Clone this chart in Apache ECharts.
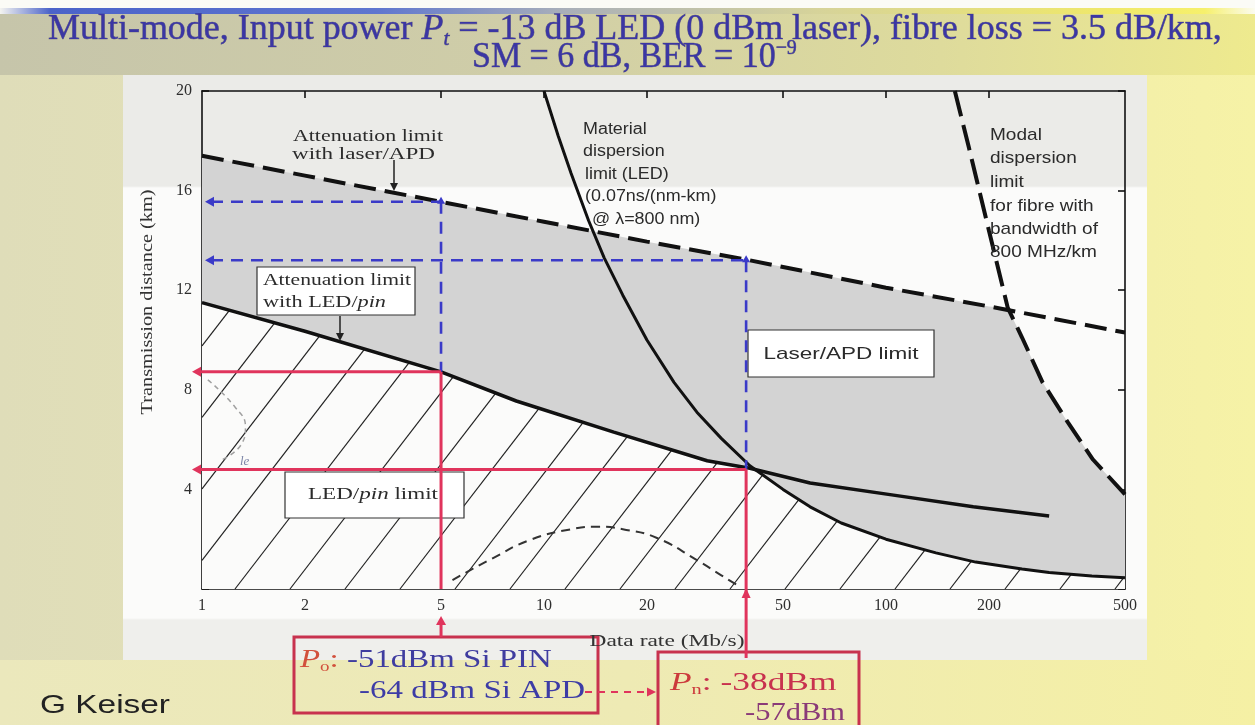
<!DOCTYPE html>
<html><head><meta charset="utf-8">
<script src="https://cdn.jsdelivr.net/npm/echarts@6.0.0/dist/echarts.min.js"></script>
<style>
html,body{margin:0;padding:0;}
body{width:1255px;height:725px;overflow:hidden;position:relative;background:linear-gradient(90deg,#dfddb9 0%,#e6e3b6 40%,#f0ecac 75%,#f6f2a6 100%);}
#topwhite{position:absolute;left:0;top:0;width:1255px;height:8px;background:#fbfbf6;}
#topbar{position:absolute;left:0;top:8px;width:1255px;height:6px;background:linear-gradient(90deg,#f4f4f0 0%,#4b63c9 4%,#5f76cf 30%,#a9afb9 45%,#d6d39a 65%,#efe86a 88%,#f6f06c 96%,#fbfbf0 100%);}
#titlebg{position:absolute;left:0;top:14px;width:1255px;height:61px;background:linear-gradient(90deg,#c6c5aa 0%,#cfcda8 40%,#dedb9c 75%,#eeea8e 100%);}
#bottombg{position:absolute;left:0;top:660px;width:1255px;height:65px;background:linear-gradient(90deg,#ebe8bc 0%,#eeeab4 50%,#f5f0a4 100%);}
#panel{position:absolute;left:123px;top:75px;width:1024px;height:585px;background:linear-gradient(180deg,#ebebe8 0px,#ebebe8 111px,#fbfbfa 113px,#fbfbfa 543px,#efefec 545px,#efefec 585px);}
#chart{position:absolute;left:0;top:0;width:1255px;height:725px;}
</style></head>
<body>
<div id="topwhite"></div><div id="topbar"></div><div id="titlebg"></div><div id="bottombg"></div><div id="panel"></div>
<div id="chart"></div>
<script>
// ---------------- data ----------------
const xTickValues = [1, 2, 5, 10, 20, 50, 100, 200, 500];
const xInnerTicks = [2, 5, 10, 20, 50, 100, 200];
const yTickValues = [4, 8, 12, 16, 20];

// attenuation limit with laser/APD (dashed)
const laserApdRate = [1, 2, 5, 10, 20, 40, 100, 200, 500];
const laserApdDist = [17.4, 16.6, 15.55, 14.75, 13.95, 13.2, 12.1, 11.35, 10.3];

// attenuation limit with LED/pin (solid)
const ledPinRate = [1, 2, 5, 8.3, 16, 30, 40, 60, 104, 180, 300];
const ledPinDist = [11.5, 10.35, 8.72, 7.55, 6.3, 5.15, 4.85, 4.26, 3.78, 3.3, 2.93];

// material dispersion limit (LED)
const materialRate = [10, 11, 12, 13.5, 15, 17, 20, 24, 28, 33, 40, 50, 60, 74, 100, 140, 183, 250, 300, 400, 500];
const materialDist = [20, 18.2, 16.7, 14.8, 13.3, 11.8, 10, 8.3, 7.1, 6.05, 4.95, 4.0, 3.3, 2.65, 2.0, 1.45, 1.08, 0.8, 0.66, 0.52, 0.45];

// modal dispersion limit (dashed)
const modalRate = [159, 175, 200, 227, 250, 287, 340, 403, 500];
const modalDist = [20, 17.7, 14.4, 11.3, 10.1, 8.3, 6.7, 5.2, 3.8];

// thin dashed hump
const humpRate = [5.4, 7, 9.1, 12, 14.3, 17, 21.4, 28, 33, 37.5];
const humpDist = [0.36, 1.2, 1.97, 2.4, 2.5, 2.4, 2.05, 1.16, 0.55, 0.08];

// faint grey dashed scribble near the left axis
const scribbleRate = [1.04, 1.25, 1.34, 1.31, 1.15];
const scribbleDist = [8.4, 7.3, 6.5, 5.86, 5.2];

// operating points (guide lines)
const pinRate = 5, pinDist = 8.72, apdDist1 = 15.55;
const crossRate = 39, crossDist = 4.8, apdDist2 = 13.2;

// region boundaries
const greyCutRate = 227;   // laser/APD line meets modal limit
const hatchCutRate = 40;   // LED/pin line meets material limit
const xMin = 1, xMax = 500, yMin = 0, yMax = 20;

// ---------------- style / layout ----------------
const SERIF = 'Liberation Serif', SANS = 'Liberation Sans';
const INK = '#2b2b2b', TITLE = '#3b36a4', RED = '#e0345c', BLUE = '#3a3ac8', BOXRED = '#c8324e';
const BOX1 = {x: 294, y: 637, w: 304, h: 76};
const BOX2 = {x: 658, y: 652, w: 201, h: 80};

const mctx = document.createElement('canvas').getContext('2d');
function measure(str, size, fam, italic) {
  mctx.font = (italic ? 'italic ' : '') + size + 'px "' + fam + '"';
  return mctx.measureText(str).width;
}
function T(x, y, text, o) {
  o = o || {};
  const size = o.size || 16, fam = o.family || SERIF;
  let sx = o.scale || 1;
  if (o.width) sx = o.width / measure(o.plain || text, size, fam, o.italic);
  const style = {text: text, fontSize: size, fontFamily: fam, fontStyle: o.italic ? 'italic' : 'normal',
    fill: o.color || INK, textAlign: o.align || 'left', textVerticalAlign: 'middle',
    align: o.align || 'left', verticalAlign: 'middle'};
  if (o.rich) style.rich = o.rich;
  return {type: 'text', x: x, y: y, z: 20, scaleX: sx, rotation: o.rotation || 0, silent: true, style: style};
}
function rs(size, fam, color, extra) {
  return Object.assign({fontSize: size, fontFamily: fam, fill: color}, extra || {});
}
function arrow(tip, dx, dy, len, half, color) {
  const bx = tip[0] - dx * len, by = tip[1] - dy * len;
  return {type: 'polygon', shape: {points: [[tip[0], tip[1]], [bx - dy * half, by + dx * half], [bx + dy * half, by - dx * half]]}, style: {fill: color}};
}
function gLine(x1, y1, x2, y2, st) {
  return {type: 'line', z: 20, silent: true, shape: {x1: x1, y1: y1, x2: x2, y2: y2}, style: st};
}

function hatchSegments(poly, spacing, slope, phase, yb) {
  const us = poly.map(p => p[0] + (p[1] - yb) / slope);
  const umin = Math.min.apply(null, us), umax = Math.max.apply(null, us);
  const segs = [];
  for (let c = phase + Math.ceil((umin - phase) / spacing) * spacing; c <= umax; c += spacing) {
    const pts = [];
    for (let i = 0; i < poly.length; i++) {
      const j = (i + 1) % poly.length;
      const u1 = us[i], u2 = us[j];
      if ((u1 <= c && u2 > c) || (u2 <= c && u1 > c)) {
        const t = (c - u1) / (u2 - u1);
        pts.push([poly[i][0] + t * (poly[j][0] - poly[i][0]), poly[i][1] + t * (poly[j][1] - poly[i][1])]);
      }
    }
    pts.sort((a, b) => a[1] - b[1]);
    for (let k = 0; k + 1 < pts.length; k += 2) segs.push([pts[k], pts[k + 1]]);
  }
  return segs;
}

function renderFills(params, api) {
  const cs = params.coordSys;
  const yb = cs.y + cs.height;
  const P = (x, y) => api.coord([x, y]);
  const greyPts = [];
  laserApdRate.forEach((r, i) => { if (r < greyCutRate) greyPts.push(P(r, laserApdDist[i])); });
  modalRate.forEach((r, i) => { if (r >= greyCutRate) greyPts.push(P(r, modalDist[i])); });
  greyPts.push(P(xMax, yMin)); greyPts.push(P(xMin, yMin));
  const hatchPts = [P(xMin, yMin)];
  ledPinRate.forEach((r, i) => { if (r <= hatchCutRate) hatchPts.push(P(r, ledPinDist[i])); });
  materialRate.forEach((r, i) => { if (r > hatchCutRate) hatchPts.push(P(r, materialDist[i])); });
  hatchPts.push(P(xMax, yMin));
  const children = [
    {type: 'polygon', shape: {points: greyPts}, style: {fill: '#d3d3d3'}},
    {type: 'polygon', shape: {points: hatchPts}, style: {fill: '#fbfbfa'}}
  ];
  hatchSegments(hatchPts, 55, 1.3, 235, yb).forEach(s => children.push({
    type: 'line', shape: {x1: s[0][0], y1: s[0][1], x2: s[1][0], y2: s[1][1]},
    style: {stroke: '#222', lineWidth: 1.2}
  }));
  return {type: 'group', children: children};
}

function renderGuides(params, api) {
  const cs = params.coordSys;
  const x0 = cs.x, yb = cs.y + cs.height;
  const P = (x, y) => api.coord([x, y]);
  const ch = [];
  const line = (a, b, st) => ch.push({type: 'line', shape: {x1: a[0], y1: a[1], x2: b[0], y2: b[1]}, style: st});
  const blueSt = {stroke: BLUE, lineWidth: 2.6, lineDash: [12, 8]};
  const redSt = {stroke: RED, lineWidth: 3};
  [[pinRate, apdDist1, pinDist], [crossRate, apdDist2, crossDist]].forEach(g => {
    const top = P(g[0], g[1]), bot = P(g[0], g[2]);
    line([x0 + 9, top[1]], top, blueSt);
    ch.push(arrow([x0 + 3, top[1]], -1, 0, 9, 5, BLUE));
    line(top, bot, blueSt);
    ch.push(arrow([top[0], top[1] - 5], 0, -1, 7, 4, BLUE));
  });
  const a = P(pinRate, pinDist), b = P(crossRate, crossDist);
  line([x0 - 4, a[1]], a, redSt); ch.push(arrow([x0 - 10, a[1]], -1, 0, 9, 5, RED));
  line(a, [a[0], yb], redSt);
  line([a[0], BOX1.y], [a[0], yb + 34], redSt); ch.push(arrow([a[0], yb + 27], 0, -1, 9, 5, RED));
  line([x0 - 4, b[1]], b, redSt); ch.push(arrow([x0 - 10, b[1]], -1, 0, 9, 5, RED));
  line(b, [b[0], BOX2.y + 6], redSt); ch.push(arrow([b[0], yb - 1], 0, -1, 10, 4.5, RED));
  return {type: 'group', children: ch};
}

function lineSeries(name, rate, dist, style, extra) {
  return Object.assign({
    type: 'line', name: name, data: rate.map((r, i) => [r, dist[i]]),
    showSymbol: false, symbol: 'none', lineStyle: style, z: 3, silent: true, smooth: false
  }, extra || {});
}

const axisLineSt = {color: '#111', width: 1.6};
const xAxisBase = {type: 'log', logBase: 10, min: xMin, max: xMax, splitLine: {show: false}, minorTick: {show: false},
  axisLine: {show: true, onZero: false, lineStyle: axisLineSt}};
const yAxisBase = {type: 'value', min: yMin, max: yMax, interval: 4, splitLine: {show: false},
  axisLine: {show: true, onZero: false, lineStyle: axisLineSt}};

const titleStroke = {stroke: 'rgba(35,30,95,0.6)', lineWidth: 0.7};
const graphicEls = [
  // title
  T(48, 30, '{n|Multi-mode, Input power }{i|P}{s|t}{n| = -13 dB LED (0 dBm laser), fibre loss = 3.5 dB/km,}', {
    size: 36, width: 1176, plain: 'Multi-mode, Input power Pt = -13 dB LED (0 dBm laser), fibre loss = 3.5 dB/km,',
    rich: {n: rs(36, SERIF, TITLE, Object.assign({lineHeight: 40}, titleStroke)),
      i: rs(36, SERIF, TITLE, Object.assign({fontStyle: 'italic', lineHeight: 40}, titleStroke)),
      s: rs(21, SERIF, TITLE, Object.assign({fontStyle: 'italic', verticalAlign: 'bottom', lineHeight: 24}, titleStroke))}}),
  T(472, 58, '{n|SM = 6 dB, BER = 10}{p|−9}', {size: 36, width: 332, plain: 'SM = 6 dB, BER = 10-9',
    rich: {n: rs(36, SERIF, TITLE, Object.assign({lineHeight: 40}, titleStroke)),
      p: rs(21, SERIF, TITLE, Object.assign({verticalAlign: 'top', lineHeight: 24}, titleStroke))}}),
  // axis names
  T(148, 302, 'Transmission distance (km)', {size: 17, width: 225, align: 'center', rotation: Math.PI / 2, color: '#333'}),
  T(667, 642, 'Data rate (Mb/s)', {size: 17, width: 155, align: 'center', color: '#333'}),
  // attenuation limit laser/APD
  T(293, 137, 'Attenuation limit', {size: 16, width: 150}),
  T(292, 155, 'with laser/APD', {size: 16, width: 143}),
  gLine(394, 160, 394, 184, {stroke: '#222', lineWidth: 1.5}),
  Object.assign(arrow([394, 191], 0, 1, 8, 4, '#222'), {z: 20}),
  // LED/pin attenuation box
  {type: 'rect', z: 4, silent: true, shape: {x: 257, y: 267, width: 158, height: 48}, style: {fill: '#fff', stroke: '#333', lineWidth: 1.2}},
  T(263, 281, 'Attenuation limit', {size: 16, width: 148}),
  T(263, 303, '{n|with LED/}{i|pin}', {size: 16, width: 123, plain: 'with LED/pin',
    rich: {n: rs(16, SERIF, INK), i: rs(16, SERIF, INK, {fontStyle: 'italic'})}}),
  gLine(340, 316, 340, 334, {stroke: '#222', lineWidth: 1.5}),
  Object.assign(arrow([340, 341], 0, 1, 8, 4, '#222'), {z: 20}),
  // material dispersion text
  T(583, 130, 'Material', {size: 16, family: SANS, scale: 1.12}),
  T(583, 152, 'dispersion', {size: 16, family: SANS, scale: 1.12}),
  T(585, 175, 'limit (LED)', {size: 16, family: SANS, scale: 1.12}),
  T(585, 197, '(0.07ns/(nm-km)', {size: 16, family: SANS, scale: 1.12}),
  T(592, 220, '@ λ=800 nm)', {size: 16, family: SANS, scale: 1.12}),
  // modal dispersion text
  T(990, 135, 'Modal', {size: 17, family: SANS, scale: 1.12}),
  T(990, 158, 'dispersion', {size: 17, family: SANS, scale: 1.12}),
  T(990, 182, 'limit', {size: 17, family: SANS, scale: 1.12}),
  T(990, 206, 'for fibre with', {size: 17, family: SANS, scale: 1.12}),
  T(990, 229, 'bandwidth of', {size: 17, family: SANS, scale: 1.12}),
  T(990, 252, '800 MHz/km', {size: 17, family: SANS, scale: 1.12}),
  // laser/APD limit box
  {type: 'rect', z: 4, silent: true, shape: {x: 748, y: 330, width: 186, height: 47}, style: {fill: '#fff', stroke: '#333', lineWidth: 1.2}},
  T(841, 354, 'Laser/APD limit', {size: 17, family: SANS, width: 155, align: 'center'}),
  // LED/pin limit box
  {type: 'rect', z: 4, silent: true, shape: {x: 285, y: 472, width: 179, height: 46}, style: {fill: '#fff', stroke: '#333', lineWidth: 1.2}},
  T(373, 495, '{n|LED/}{i|pin}{n| limit}', {size: 17, width: 130, align: 'center', plain: 'LED/pin limit',
    rich: {n: rs(17, SERIF, INK), i: rs(17, SERIF, INK, {fontStyle: 'italic'})}}),
  T(240, 462, 'le', {size: 13, italic: true, color: '#7d86a8'}),
  // bottom boxes
  {type: 'rect', z: 4, silent: true, shape: {x: BOX1.x, y: BOX1.y, width: BOX1.w, height: BOX1.h}, style: {fill: 'none', stroke: BOXRED, lineWidth: 3}},
  T(300, 660, '{pi|P}{ps|o}{r|: }{b|-51dBm Si PIN}', {size: 26, width: 257, plain: 'Po: -51dBm Si PIN',
    rich: {pi: rs(26, SERIF, '#d2503c', {fontStyle: 'italic', lineHeight: 30}), ps: rs(15, SERIF, '#d2503c', {verticalAlign: 'bottom', lineHeight: 18}),
      r: rs(26, SERIF, '#d2503c', {lineHeight: 30}), b: rs(26, SERIF, '#3f3ca0', {lineHeight: 30})}}),
  T(359, 691, '-64 dBm Si APD', {size: 26, width: 226, color: '#3d3ca6'}),
  gLine(585, 692, 648, 692, {stroke: RED, lineWidth: 2, lineDash: [7, 6]}),
  Object.assign(arrow([656, 692], 1, 0, 9, 4.5, RED), {z: 20}),
  {type: 'rect', z: 4, silent: true, shape: {x: BOX2.x, y: BOX2.y, width: BOX2.w, height: BOX2.h}, style: {fill: 'none', stroke: BOXRED, lineWidth: 3}},
  T(670, 683, '{pi|P}{ps|n}{r|: -38dBm}', {size: 26, width: 172, plain: 'Pn: -38dBm',
    rich: {pi: rs(26, SERIF, '#cc3a3c', {fontStyle: 'italic', lineHeight: 30}), ps: rs(15, SERIF, '#cc3a3c', {verticalAlign: 'bottom', lineHeight: 18}),
      r: rs(26, SERIF, '#c8324e', {lineHeight: 30})}}),
  T(745, 713, '-57dBm', {size: 26, width: 100, color: '#8a3a78'}),
  // footer
  T(40, 706, 'G Keiser', {size: 26, family: SANS, width: 130, color: '#222'})
];

const option = {
  animation: false,
  backgroundColor: 'transparent',
  tooltip: {show: false},
  grid: {left: 202, top: 91, width: 923, height: 498, show: false, containLabel: false, outerBoundsMode: 'none'},
  xAxis: [
    Object.assign({}, xAxisBase, {position: 'bottom',
      axisTick: {show: true, inside: true, length: 7, customValues: xInnerTicks, lineStyle: axisLineSt},
      axisLabel: {show: true, customValues: xTickValues, margin: 9, fontFamily: SERIF, fontSize: 16, color: '#2e2e2e',
        formatter: v => String(Math.round(v))}}),
    Object.assign({}, xAxisBase, {position: 'top',
      axisTick: {show: true, inside: true, length: 7, customValues: xInnerTicks, lineStyle: axisLineSt},
      axisLabel: {show: false}})
  ],
  yAxis: [
    Object.assign({}, yAxisBase, {position: 'left',
      axisTick: {show: true, inside: true, length: 7, lineStyle: axisLineSt},
      axisLabel: {show: true, margin: 10, fontFamily: SERIF, fontSize: 16, color: '#2e2e2e',
        formatter: v => (yTickValues.indexOf(v) >= 0 ? String(v) : '')}}),
    Object.assign({}, yAxisBase, {position: 'right',
      axisTick: {show: true, inside: true, length: 7, lineStyle: axisLineSt},
      axisLabel: {show: false}})
  ],
  series: [
    {type: 'custom', name: 'regions', coordinateSystem: 'cartesian2d', data: [[xMin, yMin]], z: 1, silent: true, renderItem: renderFills},
    lineSeries('Scribble', scribbleRate, scribbleDist, {color: '#a0a0a0', width: 1.5, type: [5, 4]}, {smooth: true}),
    lineSeries('Hump', humpRate, humpDist, {color: '#333', width: 2, type: [9, 6]}, {smooth: true}),
    lineSeries('Attenuation limit with laser/APD', laserApdRate, laserApdDist, {color: '#111', width: 4, type: [22, 9]}),
    lineSeries('Modal dispersion limit', modalRate, modalDist, {color: '#111', width: 4, type: [26, 9]}),
    lineSeries('Material dispersion limit', materialRate, materialDist, {color: '#111', width: 3}),
    lineSeries('Attenuation limit with LED/pin', ledPinRate, ledPinDist, {color: '#111', width: 3.5}),
    {type: 'custom', name: 'guides', coordinateSystem: 'cartesian2d', data: [[xMin, yMin]], z: 6, silent: true, clip: false, renderItem: renderGuides}
  ],
  graphic: {elements: graphicEls}
};

const chart = echarts.init(document.getElementById('chart'), null, {renderer: 'canvas'});
chart.setOption(option);
</script>
</body></html>
